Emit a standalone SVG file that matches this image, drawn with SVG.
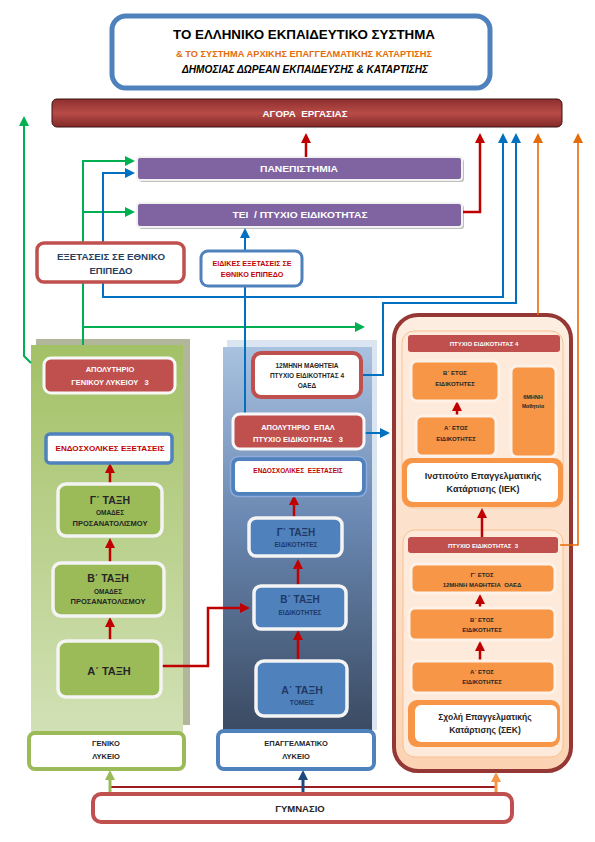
<svg xmlns="http://www.w3.org/2000/svg" width="595" height="842" viewBox="0 0 595 842">
<style>
text{font-family:"Liberation Sans",Arial,sans-serif;font-weight:bold;text-anchor:middle}
.w{fill:#ffffff}
.dk{fill:#262626}
.nv{fill:#1f3864}
.rd{fill:#c00000}
.pre{white-space:pre}
.purple{fill:#8064a2;stroke:#f2f2f2;stroke-width:2}
.shadow{fill:#bfbfbf}
.redbox{fill:#c0504d;stroke:#f8f8f8;stroke-width:3}
.gbox{fill:#9bbb59;stroke:#f4f4f4;stroke-width:3.5}
.bbox{fill:#4f81bd;stroke:#f4f4f4;stroke-width:3.5}
.obox{fill:#f79646;stroke:#fdf1e8;stroke-width:3}
.inner{fill:#fdeadb;stroke:#fac090;stroke-width:1}
.c{fill:none}
.cg{stroke:#00b050;stroke-width:2}
.cb{stroke:#0070c0;stroke-width:2}
.cr{stroke:#c00000;stroke-width:2.5}
.co{stroke:#e46c0a;stroke-width:1.6}
</style>
<defs>
<linearGradient id="agora" x1="0" y1="0" x2="0" y2="1">
<stop offset="0" stop-color="#8e2f2d"/><stop offset="0.5" stop-color="#b84b48"/><stop offset="1" stop-color="#822a28"/>
</linearGradient>
<linearGradient id="lg" x1="0" y1="0" x2="0" y2="1">
<stop offset="0" stop-color="#a3c166"/><stop offset="1" stop-color="#d2e1b6"/>
</linearGradient>
<linearGradient id="mg" x1="0" y1="0" x2="0" y2="1">
<stop offset="0" stop-color="#a9c2e0"/><stop offset="0.45" stop-color="#6a88b2"/><stop offset="1" stop-color="#3a4a61"/>
</linearGradient>
<linearGradient id="rg" x1="0" y1="0" x2="0" y2="1">
<stop offset="0" stop-color="#fdeee2"/><stop offset="1" stop-color="#fbd3b3"/>
</linearGradient>
<marker id="aG" viewBox="0 0 10 10" refX="2" refY="5" markerWidth="10" markerHeight="10" markerUnits="userSpaceOnUse" orient="auto"><path d="M0,0 L10,5 L0,10z" fill="#00b050"/></marker>
<marker id="aB" viewBox="0 0 10 10" refX="2" refY="5" markerWidth="10" markerHeight="10" markerUnits="userSpaceOnUse" orient="auto"><path d="M0,0 L10,5 L0,10z" fill="#0070c0"/></marker>
<marker id="aR" viewBox="0 0 10 10" refX="2" refY="5" markerWidth="10" markerHeight="11" markerUnits="userSpaceOnUse" orient="auto"><path d="M0,0 L10,5 L0,10z" fill="#c00000"/></marker>
<marker id="aO" viewBox="0 0 10 10" refX="2" refY="5" markerWidth="10" markerHeight="10" markerUnits="userSpaceOnUse" orient="auto"><path d="M0,0 L10,5 L0,10z" fill="#e46c0a"/></marker>
<marker id="aLG" viewBox="0 0 10 10" refX="2" refY="5" markerWidth="10" markerHeight="10" markerUnits="userSpaceOnUse" orient="auto"><path d="M0,0 L10,5 L0,10z" fill="#9bbb59"/></marker>
<marker id="aDB" viewBox="0 0 10 10" refX="2" refY="5" markerWidth="10" markerHeight="10" markerUnits="userSpaceOnUse" orient="auto"><path d="M0,0 L10,5 L0,10z" fill="#1f497d"/></marker>
<marker id="aO2" viewBox="0 0 10 10" refX="2" refY="5" markerWidth="10" markerHeight="10" markerUnits="userSpaceOnUse" orient="auto"><path d="M0,0 L10,5 L0,10z" fill="#f79646"/></marker>
</defs>
<rect width="595" height="842" fill="#ffffff"/>

<g id="title">
<rect x="112" y="16" width="378" height="72" rx="14" fill="#ffffff" stroke="#4f81bd" stroke-width="5"/>
<text x="304" y="39" font-size="13.5" fill="#000" textLength="262" lengthAdjust="spacingAndGlyphs">ΤΟ ΕΛΛΗΝΙΚΟ ΕΚΠΑΙΔΕΥΤΙΚΟ ΣΥΣΤΗΜΑ</text>
<text x="304" y="57" font-size="9.5" fill="#e46c0a" textLength="256" lengthAdjust="spacingAndGlyphs">&amp; ΤΟ ΣΥΣΤΗΜΑ ΑΡΧΙΚΗΣ ΕΠΑΓΓΕΛΜΑΤΙΚΗΣ ΚΑΤΑΡΤΙΣΗΣ</text>
<text x="305" y="73" font-size="10.5" font-style="italic" fill="#000" textLength="246" lengthAdjust="spacingAndGlyphs">ΔΗΜΟΣΙΑΣ ΔΩΡΕΑΝ ΕΚΠΑΙΔΕΥΣΗΣ &amp; ΚΑΤΑΡΤΙΣΗΣ</text>
</g>

<g id="agora-ergasias">
<rect x="52" y="99" width="510" height="28" rx="5" fill="url(#agora)" stroke="#3a1212" stroke-width="1"/>
<text x="305" y="117" font-size="9.5" class="w pre" textLength="85" lengthAdjust="spacingAndGlyphs">ΑΓΟΡΑ  ΕΡΓΑΣΙΑΣ</text>
</g>

<g id="panepistimia">
<rect x="139" y="159" width="325" height="23" rx="3" class="shadow"/>
<rect x="137" y="157" width="325" height="23" rx="3" class="purple"/>
<text x="299" y="172" font-size="9.5" class="w" textLength="78" lengthAdjust="spacingAndGlyphs">ΠΑΝΕΠΙΣΤΗΜΙΑ</text>
</g>

<g id="tei">
<rect x="139" y="205" width="325" height="24" rx="3" class="shadow"/>
<rect x="137" y="203" width="325" height="24" rx="3" class="purple"/>
<text x="300" y="218" font-size="9.5" class="w pre" textLength="135" lengthAdjust="spacingAndGlyphs">ΤΕΙ  / ΠΤΥΧΙΟ ΕΙΔΙΚΟΤΗΤΑΣ</text>
</g>

<g id="geniko-panel">
<rect x="36" y="339" width="154" height="386" fill="#b2b69b"/>
<rect x="31" y="345" width="152" height="390" fill="url(#lg)"/>
</g>

<g id="epal-panel">
<rect x="227" y="340" width="150" height="390" fill="#dbe5f1"/>
<rect x="223" y="347" width="149" height="385" fill="url(#mg)"/>
</g>

<g id="katartisi-panel">
<rect x="394" y="315" width="177" height="456" rx="24" fill="url(#rg)" stroke="#953735" stroke-width="4"/>
</g>

<g id="iek-group">
<rect x="402" y="331" width="161" height="177" rx="12" class="inner"/>
<rect x="408" y="335" width="152" height="17" rx="3" fill="#c0504d"/>
<text x="484" y="346" font-size="6" class="w">ΠΤΥΧΙΟ ΕΙΔΙΚΟΤΗΤΑΣ 4</text>
</g>

<g id="sek-group">
<rect x="403" y="530" width="160" height="227" rx="12" class="inner"/>
<rect x="408" y="537" width="150" height="16" rx="3" fill="#c0504d"/>
<text x="483" y="548" font-size="6" class="w pre">ΠΤΥΧΙΟ ΕΙΔΙΚΟΤΗΤΑΣ  3</text>
</g>

<g id="connectors">
<path class="c cg" d="M31,363 L24,356 L24,124" marker-end="url(#aG)"/>
<path class="c cg" d="M83,345 L83,161 L127,161" marker-end="url(#aG)"/>
<path class="c cg" d="M83,212 L127,212" marker-end="url(#aG)"/>
<path class="c cg" d="M83,327 L357,327" marker-end="url(#aG)"/>
<path class="c cb" d="M245,297 L103,297 L103,173 L127,173" marker-end="url(#aB)"/>
<path class="c cb" d="M245,297 L503,297 L503,141" marker-end="url(#aB)"/>
<path class="c cb" d="M245,414 L245,286"/>
<path class="c cb" d="M245,251 L245,236" marker-end="url(#aB)"/>
<path class="c cb" d="M362,375 L383,375 L383,303 L516,303 L516,141" marker-end="url(#aB)"/>
<path class="c cb" d="M365,433 L382,433" marker-end="url(#aB)"/>
<path class="c cr" d="M306,157 L306,141" marker-end="url(#aR)"/>
<path class="c cr" d="M463,212 L480,212 L480,141" marker-end="url(#aR)"/>
<path class="c cr" d="M110,484 L110,471" marker-end="url(#aR)"/>
<path class="c cr" d="M110,562 L110,546" marker-end="url(#aR)"/>
<path class="c cr" d="M110,641 L110,625" marker-end="url(#aR)"/>
<path class="c cr" d="M161,666 L208,666 L208,608 L242,608" marker-end="url(#aR)"/>
<path class="c cr" d="M294,518 L294,503" marker-end="url(#aR)"/>
<path class="c cr" d="M298,586 L298,567" marker-end="url(#aR)"/>
<path class="c cr" d="M298,661 L298,638" marker-end="url(#aR)"/>
<path class="c cr" d="M457,416 L457,409" marker-end="url(#aR)"/>
<path class="c cr" d="M482,537 L482,516" marker-end="url(#aR)"/>
<path class="c cr" d="M480,608 L480,602" marker-end="url(#aR)"/>
<path class="c cr" d="M480,661 L480,649" marker-end="url(#aR)"/>
<path class="c co" d="M538,315 L538,141" marker-end="url(#aO)"/>
<path class="c co" d="M560,545 L578,545 L578,141" marker-end="url(#aO)"/>
<path class="c" stroke="#9b1c1f" stroke-width="2" d="M110,787 L496,787"/>
<path class="c" stroke="#9bbb59" stroke-width="3" d="M110,794 L110,778" marker-end="url(#aLG)"/>
<path class="c" stroke="#1f497d" stroke-width="3" d="M303,794 L303,778" marker-end="url(#aDB)"/>
<path class="c" stroke="#f79646" stroke-width="3" d="M496,794 L496,780" marker-end="url(#aO2)"/>
</g>

<g id="exetaseis-ethniko">
<rect x="37" y="243" width="147" height="39" rx="7" fill="#ffffff" stroke="#c0504d" stroke-width="3.5"/>
<text x="111" y="260" font-size="9.5" fill="#254061" textLength="108" lengthAdjust="spacingAndGlyphs">ΕΞΕΤΑΣΕΙΣ ΣΕ ΕΘΝΙΚΟ</text>
<text x="111" y="274" font-size="9.5" fill="#254061">ΕΠΙΠΕΔΟ</text>
</g>

<g id="eidikes-exetaseis">
<rect x="201" y="251" width="101" height="35" rx="7" fill="#ffffff" stroke="#4f81bd" stroke-width="3"/>
<text x="252" y="266" font-size="7.2" class="rd" textLength="79" lengthAdjust="spacingAndGlyphs">ΕΙΔΙΚΕΣ ΕΞΕΤΑΣΕΙΣ ΣΕ</text>
<text x="252" y="277" font-size="7.2" class="rd">ΕΘΝΙΚΟ ΕΠΙΠΕΔΟ</text>
</g>

<g id="apolytirio-gel">
<rect x="44" y="358" width="131" height="35" rx="7" class="redbox"/>
<text x="110" y="372" font-size="7.5" class="w">ΑΠΟΛΥΤΗΡΙΟ</text>
<text x="110" y="385" font-size="7.5" class="w pre">ΓΕΝΙΚΟΥ ΛΥΚΕΙΟΥ   3</text>
</g>

<g id="endosxolikes-gel">
<rect x="46" y="434" width="126" height="29" rx="4" fill="#ffffff" stroke="#4f81bd" stroke-width="3.5"/>
<text x="110" y="451" font-size="8" class="rd" textLength="109" lengthAdjust="spacingAndGlyphs">ΕΝΔΟΣΧΟΛΙΚΕΣ ΕΞΕΤΑΣΕΙΣ</text>
</g>

<g id="g-taxi-gel">
<rect x="58" y="484" width="104" height="52" rx="8" class="gbox"/>
<text x="110" y="504" font-size="10.5" class="dk">Γ΄ ΤΑΞΗ</text>
<text x="110" y="515" font-size="6.5" class="dk">ΟΜΑΔΕΣ</text>
<text x="110" y="526" font-size="6.5" class="dk" textLength="75" lengthAdjust="spacingAndGlyphs">ΠΡΟΣΑΝΑΤΟΛΙΣΜΟΥ</text>
</g>

<g id="b-taxi-gel">
<rect x="53" y="563" width="111" height="53" rx="8" class="gbox"/>
<text x="108" y="582" font-size="10.5" class="dk">Β΄ ΤΑΞΗ</text>
<text x="108" y="594" font-size="6.5" class="dk">ΟΜΑΔΕΣ</text>
<text x="108" y="604" font-size="6.5" class="dk" textLength="75" lengthAdjust="spacingAndGlyphs">ΠΡΟΣΑΝΑΤΟΛΙΣΜΟΥ</text>
</g>

<g id="a-taxi-gel">
<rect x="58" y="641" width="103" height="56" rx="8" class="gbox"/>
<text x="109" y="675" font-size="11" class="dk">Α΄ ΤΑΞΗ</text>
</g>

<g id="geniko-lykeio">
<rect x="29" y="733" width="155" height="36" rx="6" fill="#ffffff" stroke="#9bbb59" stroke-width="4"/>
<text x="106" y="746" font-size="7.5" class="dk">ΓΕΝΙΚΟ</text>
<text x="106" y="759" font-size="7.5" class="dk">ΛΥΚΕΙΟ</text>
</g>

<g id="mathiteia-oaed">
<rect x="253" y="353" width="108" height="44" rx="8" fill="#ffffff" stroke="#c0504d" stroke-width="4"/>
<text x="307" y="368" font-size="6.5" class="dk">12ΜΗΝΗ ΜΑΘΗΤΕΙΑ</text>
<text x="307" y="378" font-size="6.5" class="dk">ΠΤΥΧΙΟ ΕΙΔΙΚΟΤΗΤΑΣ 4</text>
<text x="307" y="388" font-size="6.5" class="dk">ΟΑΕΔ</text>
</g>

<g id="apolytirio-epal">
<rect x="233" y="414" width="131" height="35" rx="7" class="redbox"/>
<text x="298" y="430" font-size="7.5" class="w pre">ΑΠΟΛΥΤΗΡΙΟ  ΕΠΑΛ</text>
<text x="298" y="442" font-size="7.5" class="w pre">ΠΤΥΧΙΟ ΕΙΔΙΚΟΤΗΤΑΣ   3</text>
</g>

<g id="endosxolikes-epal">
<rect x="233" y="459" width="131" height="35" rx="6" fill="#ffffff" stroke="#4f81bd" stroke-width="4"/>
<rect x="230.5" y="456.5" width="136" height="40" rx="8" fill="none" stroke="#8eaadb" stroke-width="1.5"/>
<text x="298" y="473" font-size="6.5" class="rd pre">ΕΝΔΟΣΧΟΛΙΚΕΣ  ΕΞΕΤΑΣΕΙΣ</text>
</g>

<g id="g-taxi-epal">
<rect x="249" y="518" width="93" height="38" rx="7" class="bbox"/>
<text x="296" y="536" font-size="10" class="nv">Γ΄ ΤΑΞΗ</text>
<text x="296" y="547" font-size="6.5" class="nv">ΕΙΔΙΚΟΤΗΤΕΣ</text>
</g>

<g id="b-taxi-epal">
<rect x="254" y="586" width="92" height="43" rx="7" class="bbox"/>
<text x="300" y="603" font-size="10" class="nv">Β΄ ΤΑΞΗ</text>
<text x="300" y="615" font-size="6.5" class="nv">ΕΙΔΙΚΟΤΗΤΕΣ</text>
</g>

<g id="a-taxi-epal">
<rect x="256" y="661" width="91" height="55" rx="8" class="bbox"/>
<text x="302" y="694" font-size="10.5" class="nv">Α΄ ΤΑΞΗ</text>
<text x="302" y="705" font-size="6.5" class="nv">ΤΟΜΕΙΣ</text>
</g>

<g id="epaggelmatiko-lykeio">
<rect x="218" y="731" width="156" height="38" rx="6" fill="#ffffff" stroke="#4f81bd" stroke-width="4"/>
<text x="296" y="746" font-size="7.5" class="dk">ΕΠΑΓΓΕΛΜΑΤΙΚΟ</text>
<text x="296" y="759" font-size="7.5" class="dk">ΛΥΚΕΙΟ</text>
</g>

<g id="b-etos-iek">
<rect x="411" y="361" width="88" height="40" rx="6" class="obox"/>
<text x="455" y="375" font-size="6" class="dk">Β΄ ΕΤΟΣ</text>
<text x="455" y="386" font-size="6" class="dk">ΕΙΔΙΚΟΤΗΤΕΣ</text>
</g>

<g id="examini-mathiteia">
<rect x="511" y="366" width="45" height="91" rx="6" class="obox"/>
<text x="533" y="399" font-size="5.5" class="dk">6ΜΗΝΗ</text>
<text x="533" y="408" font-size="5" class="dk">Μαθητεία</text>
</g>

<g id="a-etos-iek">
<rect x="416" y="416" width="80" height="40" rx="6" class="obox"/>
<text x="456" y="430" font-size="6" class="dk">Α΄ ΕΤΟΣ</text>
<text x="456" y="441" font-size="6" class="dk">ΕΙΔΙΚΟΤΗΤΕΣ</text>
</g>

<g id="iek">
<rect x="402" y="458" width="161" height="49" rx="9" fill="#f79646"/>
<rect x="407" y="463" width="151" height="39" rx="6" fill="#ffffff"/>
<text x="483" y="479" font-size="9" class="dk">Ινστιτούτο Επαγγελματικής</text>
<text x="483" y="492" font-size="9" class="dk">Κατάρτισης (ΙΕΚ)</text>
</g>

<g id="g-etos-sek">
<rect x="411" y="564" width="144" height="29" rx="6" class="obox"/>
<text x="482" y="577" font-size="6" class="dk">Γ΄ ΕΤΟΣ</text>
<text x="482" y="587" font-size="6" class="dk pre">12ΜΗΝΗ ΜΑΘΗΤΕΙΑ  ΟΑΕΔ</text>
</g>

<g id="b-etos-sek">
<rect x="409" y="608" width="146" height="32" rx="6" class="obox"/>
<text x="482" y="622" font-size="6" class="dk">Β΄ ΕΤΟΣ</text>
<text x="482" y="632" font-size="6" class="dk">ΕΙΔΙΚΟΤΗΤΕΣ</text>
</g>

<g id="a-etos-sek">
<rect x="411" y="661" width="144" height="32" rx="6" class="obox"/>
<text x="482" y="674" font-size="6" class="dk">Α΄ ΕΤΟΣ</text>
<text x="482" y="684" font-size="6" class="dk">ΕΙΔΙΚΟΤΗΤΕΣ</text>
</g>

<g id="sek">
<rect x="408" y="700" width="152" height="47" rx="9" fill="#f79646"/>
<rect x="415" y="705" width="142" height="37" rx="6" fill="#ffffff"/>
<text x="485" y="720" font-size="8.5" class="dk">Σχολή Επαγγελματικής</text>
<text x="485" y="733" font-size="8.5" class="dk">Κατάρτισης (ΣΕΚ)</text>
</g>

<g id="gymnasio">
<rect x="93" y="794" width="419" height="28" rx="8" fill="#ffffff" stroke="#c0504d" stroke-width="4"/>
<text x="300" y="812" font-size="9.5" class="dk">ΓΥΜΝΑΣΙΟ</text>
</g>
</svg>
